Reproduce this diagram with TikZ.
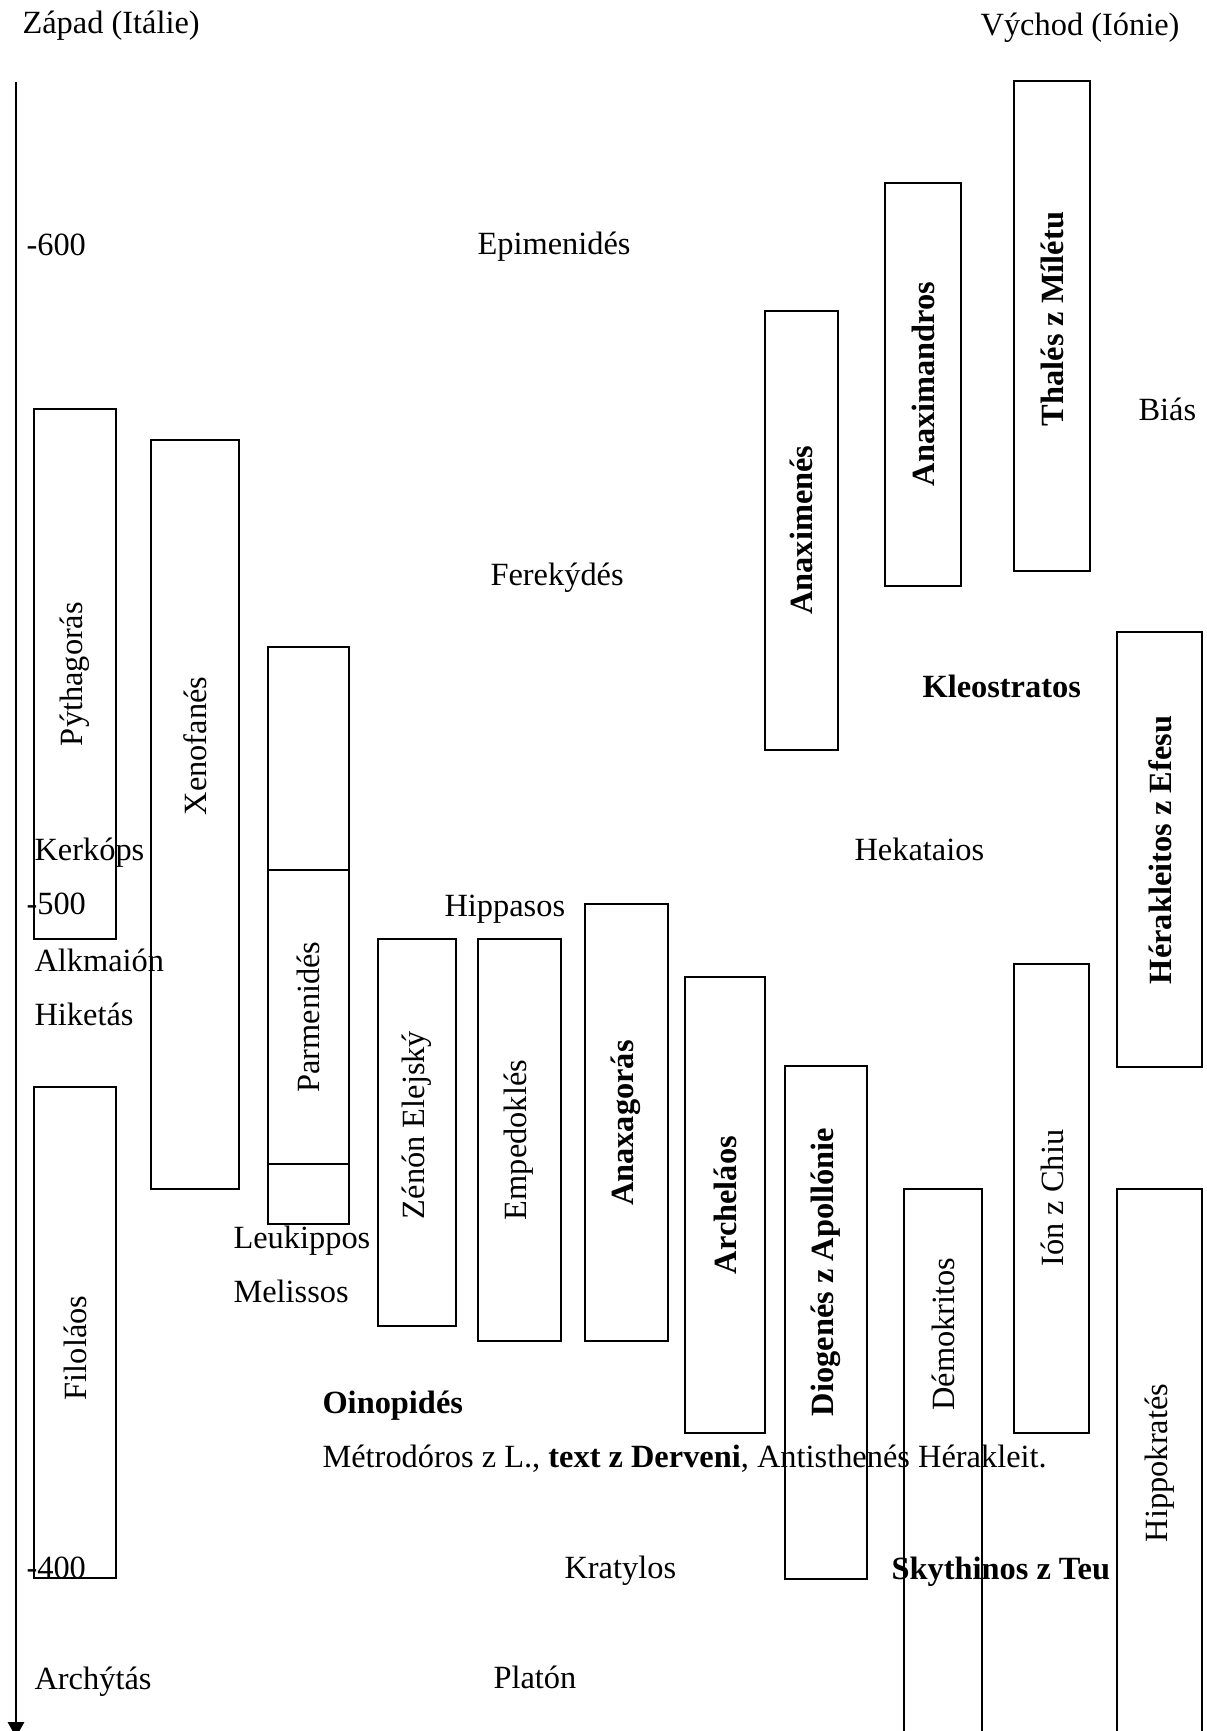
\documentclass[tikz,border=0pt]{standalone}
\usepackage{fontspec}
\setmainfont{Liberation Serif}
\usetikzlibrary{arrows.meta}
\begin{document}
\begin{tikzpicture}[x=0.37037pt,y=-0.37037pt,
  txt/.style={inner sep=0pt,font=\fontsize{12}{14}\selectfont},
  lbl/.style={txt,anchor=base west},
  lblb/.style={lbl,font=\fontsize{12}{14}\selectfont\bfseries},
  vlbl/.style={txt,rotate=90},
  vbold/.style={vlbl,font=\fontsize{12}{14}\selectfont\bfseries},
  span/.style={draw,line width=0.8pt},
  axis/.style={line width=0.8pt,-{Triangle[width=6pt,length=5.5pt]}}]
\useasboundingbox[fill=white] (0,0) rectangle (1207,1731);

% headings
\node[lbl] (zapad) at (22,33) {Západ (Itálie)};
\node[txt,anchor=base east] (vychod) at (1180,35) {Východ (Iónie)};

% time axis
\coordinate (axtop) at (16,82);
\coordinate (axbot) at (16,1737);
\draw[axis] (axtop) -- (axbot);
\node[lbl] (y600) at (26,255) {-600};
\node[lbl] (y500) at (26,914) {-500};
\node[lbl] (y400) at (26,1578) {-400};

% life spans, east
\draw[span] (1014,81) rectangle (1090,571);
\node[vbold] (thales) at (1052,319) {Thalés z Mílétu};
\draw[span] (885,183) rectangle (961,586);
\node[vbold] (anaximandros) at (923,384) {Anaximandros};
\draw[span] (765,311) rectangle (838,750);
\node[vbold] (anaximenes) at (801,530) {Anaximenés};
\draw[span] (1117,632) rectangle (1202,1067);
\node[vbold] (herakleitos) at (1160,850) {Hérakleitos z Efesu};
\draw[span] (1014,964) rectangle (1089,1433);
\node[vlbl] (ion) at (1052,1198) {Ión z Chiu};
\draw[span] (904,1740) -- (904,1189) -- (982,1189) -- (982,1740);
\node[vlbl] (demokritos) at (943,1334) {Démokritos};
\draw[span] (1117,1740) -- (1117,1189) -- (1202,1189) -- (1202,1740);
\node[vlbl] (hippokrates) at (1160,1463) {Hippokratés};

% life spans, west and centre
\draw[span] (34,409) rectangle (116,939);
\node[vlbl] (pythagoras) at (75,674) {Pýthagorás};
\draw[span] (151,440) rectangle (239,1189);
\node[vlbl] (xenofanes) at (195,746) {Xenofanés};
\draw[span] (268,647) rectangle (349,1224);
\draw[span] (268,870) -- (349,870);
\draw[span] (268,1164) -- (349,1164);
\node[vlbl] (parmenides) at (308,1017) {Parmenidés};
\draw[span] (378,939) rectangle (456,1326);
\node[vlbl] (zenon) at (417,1125) {Zénón Elejský};
\draw[span] (478,939) rectangle (561,1341);
\node[vlbl] (empedokles) at (519,1140) {Empedoklés};
\draw[span] (585,904) rectangle (668,1341);
\node[vbold] (anaxagoras) at (626,1123) {Anaxagorás};
\draw[span] (685,977) rectangle (765,1433);
\node[vbold] (archelaos) at (725,1205) {Archeláos};
\draw[span] (785,1066) rectangle (867,1579);
\node[vbold] (diogenes) at (826,1272) {Diogenés z Apollónie};
\draw[span] (34,1087) rectangle (116,1578);
\node[vlbl] (filolaos) at (75,1348) {Filoláos};

% other names
\node[lbl] (epimenides) at (477,254) {Epimenidés};
\node[lbl] (bias) at (1138,420) {Biás};
\node[lbl] (ferekydes) at (490,585) {Ferekýdés};
\node[lblb] (kleostratos) at (922,697) {Kleostratos};
\node[lbl] (kerkops) at (34,860) {Kerkóps};
\node[lbl] (hekataios) at (854,860) {Hekataios};
\node[lbl] (hippasos) at (444,916) {Hippasos};
\node[lbl] (alkmaion) at (34,971) {Alkmaión};
\node[lbl] (hiketas) at (34,1025) {Hiketás};
\node[lbl] (leukippos) at (233,1248) {Leukippos};
\node[lbl] (melissos) at (233,1302) {Melissos};
\node[lblb] (oinopides) at (322,1413) {Oinopidés};
\node[lbl] (metrodoros) at (322,1467) {Métrodóros z L., \textbf{text z Derveni}, Antisthenés Hérakleit.};
\node[lbl] (kratylos) at (564,1578) {Kratylos};
\node[lblb] (skythinos) at (891,1579) {Skythinos z Teu};
\node[lbl] (archytas) at (34,1689) {Archýtás};
\node[lbl] (platon) at (493,1688) {Platón};
\end{tikzpicture}
\end{document}
